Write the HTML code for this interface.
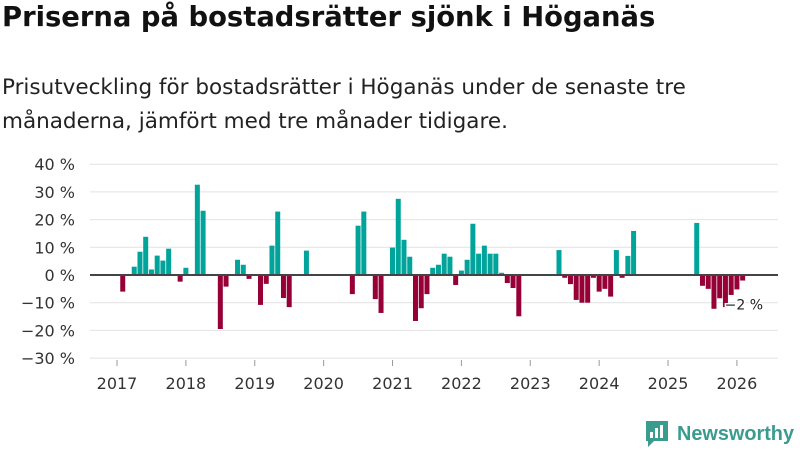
<!DOCTYPE html>
<html><head><meta charset="utf-8"><style>
body{margin:0;width:800px;height:450px;background:#fff;font-family:"Liberation Sans","DejaVu Sans",sans-serif;overflow:hidden;position:relative;color:#111}
h1{position:absolute;left:2px;top:2px;margin:0;font-size:27.4px;font-weight:bold;font-family:"DejaVu Sans","Liberation Sans",sans-serif;white-space:nowrap}
p{position:absolute;left:2px;top:71px;margin:0;font-size:21.5px;line-height:34px;font-family:"DejaVu Sans","Liberation Sans",sans-serif;color:#222;white-space:nowrap}
svg{position:absolute;left:0;top:0}
</style></head><body>
<h1>Priserna på bostadsrätter sjönk i Höganäs</h1>
<p>Prisutveckling för bostadsrätter i Höganäs under de senaste tre<br>månaderna, jämfört med tre månader tidigare.</p>
<svg id="chart" width="800" height="450"></svg>
<script>
const yTicks=[40,30,20,10,0,-10,-20,-30];
const years=[2017,2018,2019,2020,2021,2022,2023,2024,2025,2026];
// monthly values from 2017-01 (null = no data)
const values=[null,-6,null,3,8.4,13.8,2,7,5.2,9.5,null,-2.4,2.6,null,32.6,23.2,null,null,-19.5,-4.2,null,5.5,3.7,-1.4,null,-10.8,-3.2,10.6,22.9,-8.3,-11.6,null,null,8.8,
null,null,null,null,null,null,null,-6.9,17.8,22.9,null,-8.7,-13.7,null,9.9,27.5,12.7,6.6,-16.6,-12,-6.9,2.6,3.7,7.7,6.6,-3.6,1.6,5.5,18.5,7.7,10.6,7.7,7.7,0.8,-2.9,-4.7,-14.9,
null,null,null,null,null,null,9,-1,-3.3,-9,-10,-10,-1,-6,-5,-7.8,9,-1,6.9,15.9,
null,null,null,null,null,null,null,null,null,null,18.8,-3.9,-5,-12.2,-8.4,-11.6,-7.2,-5.2,-2];
const lastLabel="−2 %";
const svg=document.getElementById('chart');
const NS='http://www.w3.org/2000/svg';
const X0=117,MW=5.74,Y0=275,PY=2.77;
const xS=i=>X0+i*MW;
const yS=v=>Y0-v*PY;
function mk(t,a){const e=document.createElementNS(NS,t);for(const k in a)e.setAttribute(k,a[k]);svg.appendChild(e);return e;}
yTicks.forEach(v=>{
  if(v!==0){const g=mk('line',{x1:90,x2:778,y1:yS(v),y2:yS(v),stroke:'#e2e2e2','stroke-width':1});
  
  }
  const t=mk('text',{x:75,y:yS(v)+6,'text-anchor':'end','font-size':16,fill:'#333','font-family':'DejaVu Sans, sans-serif'});
  t.textContent=(v<0?'−'+(-v):v)+' %';
  
  
});
years.forEach((yr,k)=>{
  const x=xS(k*12);
  const m=mk('line',{x1:x,x2:x,y1:360,y2:366,stroke:'#999'});
  
  
  const t=mk('text',{x:x,y:389,'text-anchor':'middle','font-size':16,fill:'#333','font-family':'DejaVu Sans, sans-serif'});
  t.textContent=yr;
  
  
});
values.forEach((v,i)=>{
  if(v===null)return;
  const y=v>=0?yS(v):Y0, h=Math.abs(v)*PY;
  const r=mk('rect',{x:xS(i)-2.5,y:y,width:5,height:h,fill:v>=0?'#00a49a':'#960037'});
  
  
});
const z=mk('line',{x1:90,x2:778,y1:Y0,y2:Y0,stroke:'#444','stroke-width':2});


const li=values.length-1;
const lb=mk('text',{x:xS(li)-18,y:yS(values[li])+29,'font-size':14,fill:'#222','font-family':'DejaVu Sans, sans-serif',stroke:'#fff','stroke-width':3,'paint-order':'stroke'});
lb.textContent=lastLabel;


// logo
const lg=mk('g',{});


const ic=document.createElementNS(NS,'path');
ic.setAttribute('d','M646 421h22v20h-14l-6 6v-6h-2z');ic.setAttribute('fill','#3a9b8f');lg.appendChild(ic);
[[650,432,3,6],[655,428,3,10],[660,425,3,13]].forEach(b=>{const r=document.createElementNS(NS,'rect');r.setAttribute('x',b[0]);r.setAttribute('y',b[1]);r.setAttribute('width',b[2]);r.setAttribute('height',b[3]);r.setAttribute('fill','#fff');lg.appendChild(r);});
const lt=document.createElementNS(NS,'text');
lt.setAttribute('x',677);lt.setAttribute('y',440);lt.setAttribute('font-size',20);lt.setAttribute('font-weight','bold');lt.setAttribute('fill','#3a9b8f');lt.setAttribute('font-family','Liberation Sans, sans-serif');
lt.setAttribute('textLength',117);lt.setAttribute('lengthAdjust','spacingAndGlyphs');
lt.textContent='Newsworthy';lg.appendChild(lt);
</script>
</body></html>
